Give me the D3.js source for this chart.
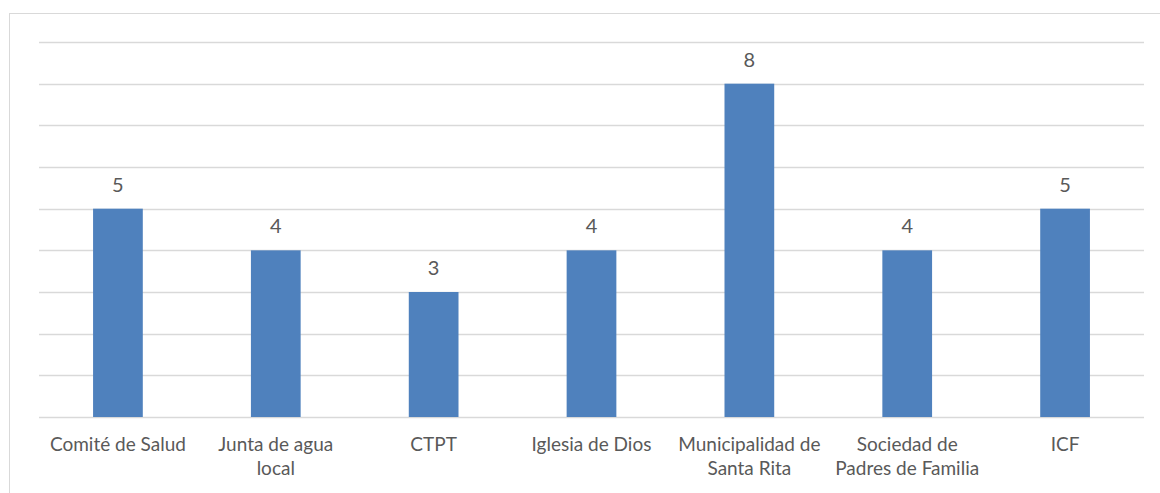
<!DOCTYPE html>
<html>
<head>
<meta charset="utf-8">
<script src="https://cdn.jsdelivr.net/npm/d3@7"></script>
<style>
  html, body { margin: 0; padding: 0; background: #fff; }
  text { font-family: Lato, "Open Sans", sans-serif; fill: #595959; }
</style>
</head>
<body>
<div id="chart"></div>
<script>
const categories = [
    ['Comité de Salud'],
    ['Junta de agua', 'local'],
    ['CTPT'],
    ['Iglesia de Dios'],
    ['Municipalidad de', 'Santa Rita'],
    ['Sociedad de', 'Padres de Familia'],
    ['ICF']
];
const values = [5, 4, 3, 4, 8, 4, 5];
const gridTicks = [0, 1, 2, 3, 4, 5, 6, 7, 8, 9];

const W = 1160, H = 493;
const plot = { left: 39, right: 1144, top: 42, bottom: 417 };

const svg = d3.select('#chart').append('svg')
    .attr('width', W)
    .attr('height', H);

// outer chart border
svg.append('rect')
    .attr('x', 9.5).attr('y', 13.5)
    .attr('width', W).attr('height', H)
    .attr('fill', 'none')
    .attr('stroke', '#d9d9d9');

const x = d3.scaleBand()
    .domain(d3.range(categories.length))
    .range([plot.left, plot.right])
    .paddingInner(0.685)
    .paddingOuter(0.3425);

const y = d3.scaleLinear()
    .domain([0, 9])
    .range([plot.bottom, plot.top]);

// gridlines
svg.append('g')
    .selectAll('line')
    .data(gridTicks)
    .join('line')
    .attr('x1', plot.left).attr('x2', plot.right)
    .attr('y1', d => Math.round(y(d)) + 0.5)
    .attr('y2', d => Math.round(y(d)) + 0.5)
    .attr('stroke', '#d9d9d9')
    .attr('stroke-width', 1.3);

// bars
svg.append('g')
    .selectAll('rect')
    .data(values)
    .join('rect')
    .attr('x', (d, i) => x(i))
    .attr('width', x.bandwidth())
    .attr('y', d => y(d))
    .attr('height', d => y(0) - y(d))
    .attr('fill', '#4f81bd');

// value labels
svg.append('g')
    .selectAll('text')
    .data(values)
    .join('text')
    .attr('x', (d, i) => x(i) + x.bandwidth() / 2)
    .attr('y', d => y(d) - 17)
    .attr('text-anchor', 'middle')
    .attr('font-size', 20)
    .text(d => d);

// category labels
const catLabels = svg.append('g')
    .selectAll('text')
    .data(categories)
    .join('text')
    .attr('x', (d, i) => x(i) + x.bandwidth() / 2)
    .attr('y', 451)
    .attr('text-anchor', 'middle')
    .attr('font-size', 19);

catLabels.selectAll('tspan')
    .data(d => d)
    .join('tspan')
    .attr('x', function() { return d3.select(this.parentNode).attr('x'); })
    .attr('dy', (d, i) => i === 0 ? 0 : 24)
    .text(d => d);
</script>
</body>
</html>
